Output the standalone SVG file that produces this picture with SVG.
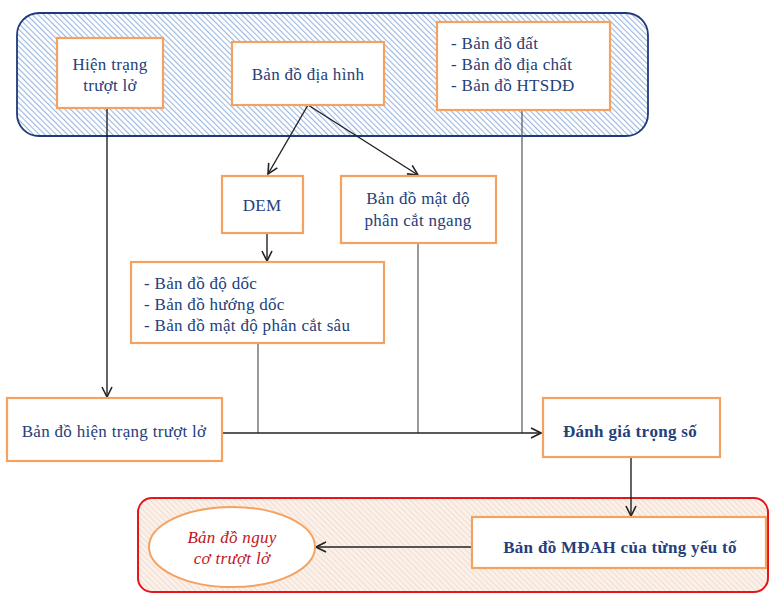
<svg xmlns="http://www.w3.org/2000/svg" width="770" height="594" viewBox="0 0 770 594">
<defs>
<pattern id="hatchBlue" patternUnits="userSpaceOnUse" width="4" height="4" patternTransform="rotate(-45)">
<rect width="4" height="4" fill="#ffffff"/>
<line x1="0" y1="0" x2="0" y2="4" stroke="#9ab7e0" stroke-width="2.2"/>
</pattern>
<pattern id="hatchPeach" patternUnits="userSpaceOnUse" width="4" height="4" patternTransform="rotate(-45)">
<rect width="4" height="4" fill="#fbf1ea"/>
<line x1="0" y1="0" x2="0" y2="4" stroke="#efd8c8" stroke-width="1.6"/>
</pattern>
<marker id="arr" viewBox="0 0 12 12" refX="11" refY="6" markerWidth="12" markerHeight="12" markerUnits="userSpaceOnUse" orient="auto">
<path d="M1,1 L11,6 L1,11" fill="none" stroke="#222" stroke-width="1.6"/>
</marker>
</defs>
<style>
.box{fill:#ffffff;stroke:#f4a261;stroke-width:2.2;}
.t{font-family:"Liberation Serif","Times New Roman",serif;font-size:17px;letter-spacing:0.3px;fill:#24407a;}
.c{text-anchor:middle;}
.b{font-weight:bold;}
.red{fill:#c0141c;font-style:italic;}
.ln{fill:none;stroke:#222;stroke-width:1.4;}
.lg{fill:none;stroke:#555;stroke-width:1.2;}
</style>
<g id="panel-top">
<rect x="17" y="13" width="631" height="123" rx="22" fill="url(#hatchBlue)" stroke="#1f3a7a" stroke-width="1.8"/>
</g>
<g id="panel-bottom">
<rect x="138" y="498" width="630" height="94" rx="14" fill="url(#hatchPeach)" stroke="#e8141c" stroke-width="2"/>
</g>
<g id="connectors">
<line class="ln" x1="107" y1="108" x2="107" y2="397" marker-end="url(#arr)"/>
<line class="ln" x1="308" y1="105" x2="268" y2="174" marker-end="url(#arr)"/>
<line class="ln" x1="308" y1="105" x2="418" y2="175" marker-end="url(#arr)"/>
<line class="ln" x1="267" y1="233" x2="267" y2="261" marker-end="url(#arr)"/>
<line class="lg" x1="258" y1="343" x2="258" y2="433"/>
<line class="lg" x1="418" y1="243" x2="418" y2="433"/>
<line class="lg" x1="522" y1="110" x2="522" y2="433"/>
<line class="ln" x1="222" y1="433" x2="541" y2="433" marker-end="url(#arr)"/>
<line class="ln" x1="631" y1="457" x2="631" y2="516" marker-end="url(#arr)"/>
<line class="ln" x1="472" y1="547" x2="316" y2="547" marker-end="url(#arr)"/>
</g>
<g id="node-hientrang">
<rect class="box" x="57" y="38" width="106" height="70"/>
<text class="t c" x="110" y="70">Hiện trạng</text>
<text class="t c" x="110" y="91">trượt lở</text>
</g>
<g id="node-diahinh">
<rect class="box" x="232" y="42" width="152" height="63"/>
<text class="t c" x="308" y="80">Bản đồ địa hình</text>
</g>
<g id="node-dat">
<rect class="box" x="437" y="22" width="173" height="88"/>
<text class="t" x="451" y="49">-  Bản đồ đất</text>
<text class="t" x="451" y="70">-  Bản đồ địa chất</text>
<text class="t" x="451" y="91">-  Bản đồ HTSDĐ</text>
</g>
<g id="node-dem">
<rect class="box" x="222" y="176" width="81" height="57"/>
<text class="t c" x="262" y="211">DEM</text>
</g>
<g id="node-ngang">
<rect class="box" x="341" y="176" width="155" height="67"/>
<text class="t c" x="418" y="204">Bản đồ mật độ</text>
<text class="t c" x="418" y="226">phân cắt ngang</text>
</g>
<g id="node-doc">
<rect class="box" x="131" y="262" width="253" height="81"/>
<text class="t" x="144" y="289">-  Bản đồ độ dốc</text>
<text class="t" x="144" y="310">-  Bản đồ hướng dốc</text>
<text class="t" x="144" y="331">-  Bản đồ mật độ phân cắt sâu</text>
</g>
<g id="node-bdhientrang">
<rect class="box" x="7" y="398" width="215" height="63"/>
<text class="t c" x="114" y="437">Bản đồ hiện trạng trượt lở</text>
</g>
<g id="node-danhgia">
<rect class="box" x="543" y="398" width="177" height="59"/>
<text class="t c b" x="630" y="437">Đánh giá trọng số</text>
</g>
<g id="node-mdah">
<rect class="box" x="472" y="517" width="294" height="51"/>
<text class="t c b" x="620" y="553">Bản đồ MĐAH của từng  yếu tố</text>
</g>
<g id="node-nguyco">
<ellipse cx="232" cy="547" rx="83" ry="40" fill="#ffffff" stroke="#f4a261" stroke-width="2"/>
<text class="t c red" x="232" y="543">Bản đồ nguy</text>
<text class="t c red" x="232" y="564">cơ trượt lở</text>
</g>
</svg>
